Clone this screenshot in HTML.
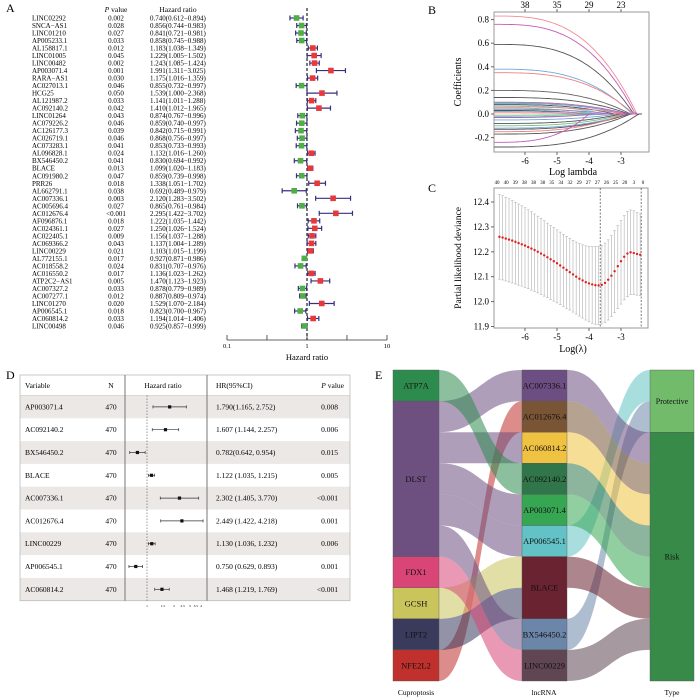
<!DOCTYPE html>
<html><head><meta charset="utf-8"><style>
html,body{margin:0;padding:0;background:#fff;}
svg{display:block;font-family:"Liberation Serif",serif;}
</style></head><body>
<svg id="fig" width="700" height="700" viewBox="0 0 700 700" xmlns="http://www.w3.org/2000/svg">
<g id="pa">
<text x="6" y="12" font-size="12">A</text>
<text x="116" y="12" font-size="7.5" text-anchor="middle"><tspan font-style="italic">P</tspan> value</text>
<text x="178" y="12" font-size="7.5" text-anchor="middle">Hazard ratio</text>
<text x="307" y="360" font-size="8.5" text-anchor="middle">Hazard ratio</text>
</g>
<g id="pb">
<text x="428" y="14" font-size="12">B</text>
<text x="573" y="175" font-size="10" text-anchor="middle">Log lambda</text>
<text transform="translate(461,82) rotate(-90)" font-size="10" text-anchor="middle">Coefficients</text>
</g>
<g id="pc">
<text x="428" y="192" font-size="12">C</text>
<text x="573" y="352" font-size="10" text-anchor="middle">Log(λ)</text>
<text transform="translate(461,258) rotate(-90)" font-size="9.5" text-anchor="middle">Partial likelihood deviance</text>
</g>
<g id="pd">
<text x="6" y="379" font-size="12">D</text>
</g>
<g id="pe">
<text x="375" y="379" font-size="12">E</text>
</g>
</svg>
<script>
// ---------- Panel A data ----------
const aNames=["LINC02292","SNCA−AS1","LINC01210","AP005233.1","AL158817.1","LINC01005","LINC00482","AP003071.4","RARA−AS1","AC027013.1","HCG25","AL121987.2","AC092140.2","LINC01264","AC079226.2","AC126177.3","AC026719.1","AC073283.1","AL096828.1","BX546450.2","BLACE","AC091980.2","PRR26","AL662791.1","AC007336.1","AC005696.4","AC012676.4","AF096876.1","AC024361.1","AC022405.1","AC069366.2","LINC00229","AL772155.1","AC018558.2","AC016550.2","ATP2C2−AS1","AC007327.2","AC007277.1","LINC01270","AP006545.1","AC060814.2","LINC00498"];
const aP=["0.002","0.028","0.027","0.033","0.012","0.045","0.002","0.001","0.030","0.046","0.050","0.033","0.042","0.043","0.046","0.039","0.046","0.041","0.024","0.041","0.013","0.047","0.018","0.038","0.003","0.027","<0.001","0.018","0.027","0.009","0.043","0.021","0.017","0.024","0.017","0.005","0.033","0.012","0.020","0.018","0.033","0.046"];
const aHR=[0.740,0.856,0.841,0.858,1.183,1.229,1.243,1.991,1.175,0.855,1.539,1.141,1.410,0.874,0.859,0.842,0.868,0.853,1.132,0.830,1.099,0.859,1.338,0.692,2.120,0.865,2.295,1.222,1.250,1.156,1.137,1.103,0.927,0.831,1.136,1.470,0.878,0.887,1.529,0.823,1.194,0.925];
const aLo=[0.612,0.744,0.721,0.745,1.038,1.005,1.085,1.311,1.016,0.732,1.000,1.011,1.012,0.767,0.740,0.715,0.756,0.733,1.016,0.694,1.020,0.739,1.051,0.489,1.283,0.761,1.422,1.035,1.026,1.037,1.004,1.015,0.871,0.707,1.023,1.123,0.779,0.809,1.070,0.700,1.014,0.857];
const aHi=[0.894,0.983,0.981,0.988,1.349,1.502,1.424,3.025,1.359,0.997,2.368,1.288,1.965,0.996,0.997,0.991,0.997,0.993,1.260,0.992,1.183,0.998,1.702,0.979,3.502,0.984,3.702,1.442,1.524,1.288,1.289,1.199,0.986,0.976,1.262,1.923,0.989,0.974,2.184,0.967,1.406,0.999];
const aTicks=[0.1,1,10];

// ---------- Panel B data ----------
const bStart=[0.83,0.76,0.59,0.38,0.35,0.20,0.14,0.10,0.095,0.09,0.08,0.07,0.06,0.05,0.04,0.03,0.02,0.01,-0.01,-0.02,-0.03,-0.05,-0.08,-0.10,-0.12,-0.13,-0.15,-0.17,-0.24,-0.28];
const bZero=[-2.5,-2.55,-2.6,-2.65,-2.6,-2.7,-2.75,-2.8,-3.0,-2.9,-3.2,-3.5,-2.85,-3.8,-3.3,-4.0,-3.6,-4.2,-4.0,-3.4,-3.9,-3.1,-3.0,-2.9,-2.8,-2.75,-2.9,-2.7,-4.0,-2.45];
const bTop=["38","35","29","23"];
const bTopAt=[-6,-5,-4,-3];
const bXTicks=[-6,-5,-4,-3];
const bYTicks=[0.8,0.6,0.4,0.2,0.0,-0.2];

// ---------- Panel C data ----------
const cX=[-6.8,-6.7,-6.6,-6.5,-6.4,-6.3,-6.2,-6.1,-6.0,-5.9,-5.8,-5.7,-5.6,-5.5,-5.4,-5.3,-5.2,-5.1,-5.0,-4.9,-4.8,-4.7,-4.6,-4.5,-4.4,-4.3,-4.2,-4.1,-4.0,-3.9,-3.8,-3.7,-3.6,-3.5,-3.4,-3.3,-3.2,-3.1,-3.0,-2.9,-2.8,-2.7,-2.6,-2.5,-2.4];
const cMean=[12.260,12.257,12.253,12.249,12.245,12.240,12.235,12.230,12.225,12.219,12.213,12.207,12.200,12.193,12.186,12.178,12.170,12.162,12.154,12.145,12.136,12.127,12.118,12.109,12.100,12.092,12.085,12.078,12.073,12.069,12.066,12.065,12.067,12.075,12.088,12.104,12.122,12.142,12.162,12.180,12.193,12.198,12.195,12.191,12.188];
const cUp=[12.430,12.425,12.419,12.413,12.406,12.399,12.392,12.385,12.377,12.369,12.361,12.352,12.343,12.334,12.325,12.315,12.306,12.297,12.288,12.279,12.270,12.262,12.254,12.246,12.239,12.233,12.228,12.224,12.222,12.221,12.221,12.222,12.226,12.235,12.248,12.265,12.285,12.305,12.325,12.345,12.362,12.368,12.365,12.358,12.352];
const cLo=[12.090,12.087,12.083,12.079,12.075,12.071,12.066,12.062,12.057,12.052,12.046,12.041,12.035,12.029,12.022,12.016,12.009,12.002,11.995,11.988,11.981,11.973,11.966,11.958,11.950,11.942,11.934,11.926,11.919,11.913,11.909,11.908,11.910,11.916,11.926,11.940,11.956,11.972,11.990,12.007,12.020,12.028,12.028,12.026,12.024];
const cTop=["40","40","39","38","38","38","35","34","32","29","27","27","26","25","20","3","0"];
const cXTicks=[-6,-5,-4,-3];
const cYTicks=[12.4,12.3,12.2,12.1,12.0,11.9];
const cVLines=[-3.65,-2.37];

// ---------- Panel D data ----------
const dNames=["AP003071.4","AC092140.2","BX546450.2","BLACE","AC007336.1","AC012676.4","LINC00229","AP006545.1","AC060814.2"];
const dHR=[1.790,1.607,0.782,1.122,2.302,2.449,1.130,0.750,1.468];
const dLo=[1.165,1.144,0.642,1.035,1.405,1.422,1.036,0.629,1.219];
const dHi=[2.752,2.257,0.954,1.215,3.770,4.218,1.232,0.893,1.769];
const dCI=["1.790(1.165, 2.752)","1.607 (1.144, 2.257)","0.782(0.642, 0.954)","1.122 (1.035, 1.215)","2.302 (1.405, 3.770)","2.449 (1.422, 4.218)","1.130 (1.036, 1.232)","0.750 (0.629, 0.893)","1.468 (1.219, 1.769)"];
const dP=["0.008","0.006","0.015","0.005","<0.001","0.001","0.006","0.001","<0.001"];
const dTicks=[1,1.5,2,2.5,3,3.5,4];

// ---------- Panel E data ----------
const eCup=["ATP7A","DLST","FDX1","GCSH","LIPT2","NFE2L2"];
const eCupN=[1,5,1,1,1,1];
const eLnc=["AC007336.1","AC012676.4","AC060814.2","AC092140.2","AP003071.4","AP006545.1","BLACE","BX546450.2","LINC00229"];
const eLncN=[1,1,1,1,1,1,2,1,1];
const eType=["Protective","Risk"];
const eTypeN=[2,8];
const eLink1Src=["DLST","NFE2L2","DLST","ATP7A","DLST","DLST","GCSH","LIPT2","DLST","FDX1"];
const eLink1Dst=["AC007336.1","AC012676.4","AC060814.2","AC092140.2","AP003071.4","AP006545.1","BLACE","BLACE","BX546450.2","LINC00229"];
const eLink2Src=["AP006545.1","BX546450.2","AC007336.1","AC012676.4","AC060814.2","AC092140.2","AP003071.4","BLACE","LINC00229"];
const eLink2Dst=["Protective","Protective","Risk","Risk","Risk","Risk","Risk","Risk","Risk"];

const NS="http://www.w3.org/2000/svg";
function mk(parent,tag,attrs,txt){const e=document.createElementNS(NS,tag);for(const k in attrs)e.setAttribute(k,attrs[k]);if(txt!==undefined)e.textContent=txt;parent.appendChild(e);return e;}
const pa=document.getElementById('pa'),pb=document.getElementById('pb'),pc=document.getElementById('pc'),pd=document.getElementById('pd'),pe=document.getElementById('pe');

// ===== Panel A =====
const aY=i=>18+i*(308/(aNames.length-1));
const aXs=v=>227+(Math.log10(v)+1)*80;
let el;
el=mk(pa,'line',{x1:aXs(1),x2:aXs(1),y1:8,y2:340,stroke:'#333','stroke-width':1.3,'stroke-dasharray':'3,2'});


el=mk(pa,'line',{x1:aXs(0.1),x2:aXs(10),y1:340,y2:340,stroke:'#333','stroke-width':0.8});


[0.1,0.316,1,3.16,10].forEach(v=>{el=mk(pa,'line',{x1:aXs(v),x2:aXs(v),y1:335,y2:340,stroke:'#333','stroke-width':0.8});

});
aTicks.forEach(v=>{el=mk(pa,'text',{x:aXs(v),y:348,'font-size':6.5,'text-anchor':'middle'},String(v));

});
aNames.forEach((n,i)=>{
 const y=aY(i);
 el=mk(pa,'text',{x:32,y:y+2.5,'font-size':7},n);
 
 
 el=mk(pa,'text',{x:116,y:y+2.5,'font-size':7,'text-anchor':'middle'},aP[i]);
 
 
 el=mk(pa,'text',{x:150,y:y+2.5,'font-size':7},aHR[i].toFixed(3)+'('+aLo[i].toFixed(3)+'−'+aHi[i].toFixed(3)+')');
 
 
 const g=mk(pa,'g',{});
 
 
 const x1=aXs(aLo[i]),x2=aXs(aHi[i]),xm=aXs(aHR[i]);
 mk(g,'line',{x1:x1,x2:x2,y1:y,y2:y,stroke:'#3b2e7e','stroke-width':1.2});
 mk(g,'line',{x1:x1,x2:x1,y1:y-2.5,y2:y+2.5,stroke:'#3b2e7e','stroke-width':1.2});
 mk(g,'line',{x1:x2,x2:x2,y1:y-2.5,y2:y+2.5,stroke:'#3b2e7e','stroke-width':1.2});
 mk(g,'rect',{x:xm-2.8,y:y-2.8,width:5.6,height:5.6,fill:aHR[i]<1?'#4fae45':'#e8393a'});
});

// ===== Panel B =====
const bL=494,bR=649,bT=12,bB=152;
const bXs=v=>525+(v+6)*32;
const bYs=v=>114-v*118;
el=mk(pb,'rect',{x:bL,y:bT,width:bR-bL,height:bB-bT,fill:'none',stroke:'#999','stroke-width':1});


bXTicks.forEach(v=>{mk(pb,'line',{x1:bXs(v),x2:bXs(v),y1:bB,y2:bB+3,stroke:'#666'});
el=mk(pb,'text',{x:bXs(v),y:bB+12,'font-size':9,'text-anchor':'middle'},String(v));

});
bYTicks.forEach(v=>{mk(pb,'line',{x1:bL-3,x2:bL,y1:bYs(v),y2:bYs(v),stroke:'#666'});
el=mk(pb,'text',{x:bL-5,y:bYs(v)+3,'font-size':9,'text-anchor':'end'},v.toFixed(1));

});
bTop.forEach((t,i)=>{mk(pb,'line',{x1:bXs(bTopAt[i]),x2:bXs(bTopAt[i]),y1:bT-3,y2:bT,stroke:'#666'});
el=mk(pb,'text',{x:bXs(bTopAt[i]),y:8,'font-size':9,'text-anchor':'middle'},t);

});
const bCols=['#f08c9a','#c45ab8','#555','#6fa8dc','#f08080','#666','#555','#c45ab8','#7fbf7f','#6fa8dc','#555','#66cccc','#f08080','#7fbf7f','#9c7fd0','#555','#6fa8dc','#f08080','#7fbf7f','#66cccc','#c45ab8','#6fa8dc','#555','#7fbf7f','#6fa8dc','#555','#f08080','#555','#c45ab8','#555'];
const bXmin=-6.97,bXend=-2.35;
bStart.forEach((c,i)=>{
 let d='';
 for(let k=0;k<=60;k++){const x=bXmin+(bXend-bXmin)*k/60;let t=(x-bXmin)/(bZero[i]-bXmin);let v=t>=1?0:c*(1-Math.pow(t,3));d+=(k?'L':'M')+bXs(x).toFixed(1)+','+bYs(v).toFixed(1);}
 el=mk(pb,'path',{d:d,fill:'none',stroke:bCols[i%bCols.length],'stroke-width':0.9});
 
 
});

// ===== Panel C =====
const cL=494,cR=648,cT=188,cB=328;
const cXs=v=>525+(v+6)*32;
const cYs=v=>202+(12.4-v)*249;
el=mk(pc,'rect',{x:cL,y:cT,width:cR-cL,height:cB-cT,fill:'none',stroke:'#999','stroke-width':1});


cXTicks.forEach(v=>{mk(pc,'line',{x1:cXs(v),x2:cXs(v),y1:cB,y2:cB+3,stroke:'#666'});
el=mk(pc,'text',{x:cXs(v),y:cB+12,'font-size':9,'text-anchor':'middle'},String(v));

});
cYTicks.forEach(v=>{mk(pc,'line',{x1:cL-3,x2:cL,y1:cYs(v),y2:cYs(v),stroke:'#666'});
el=mk(pc,'text',{x:cL-5,y:cYs(v)+3,'font-size':9,'text-anchor':'end'},v.toFixed(1));

});
cTop.forEach((t,i)=>{el=mk(pc,'text',{x:497+i*(146/(cTop.length-1)),y:184,'font-size':5,'text-anchor':'middle'},t);

});
cVLines.forEach(v=>{el=mk(pc,'line',{x1:cXs(v),x2:cXs(v),y1:cT,y2:cB,stroke:'#444','stroke-width':0.7,'stroke-dasharray':'2,1.5'});

});
cX.forEach((x,i)=>{
 const g=mk(pc,'g',{});
 
 
 const px=cXs(x);
 mk(g,'line',{x1:px,x2:px,y1:cYs(cUp[i]),y2:cYs(cLo[i]),stroke:'#bbb','stroke-width':0.7});
 mk(g,'line',{x1:px-1.3,x2:px+1.3,y1:cYs(cUp[i]),y2:cYs(cUp[i]),stroke:'#bbb','stroke-width':0.7});
 mk(g,'line',{x1:px-1.3,x2:px+1.3,y1:cYs(cLo[i]),y2:cYs(cLo[i]),stroke:'#bbb','stroke-width':0.7});
 mk(g,'circle',{cx:px,cy:cYs(cMean[i]),r:1.2,fill:'#e02020'});
});

// ===== Panel D =====
const dL=20,dR=350,dT=375,dHead=20.5,dRow=22.8;
const dXs=v=>147+Math.log2(v)*27;
for(let i=0;i<dNames.length;i++){ if(i%2===0){el=mk(pd,'rect',{x:dL,y:dT+dHead+i*dRow,width:dR-dL,height:dRow,fill:'#ebe8e5'});

}}
el=mk(pd,'rect',{x:dL,y:dT,width:dR-dL,height:dHead+dNames.length*dRow,fill:'none',stroke:'#bbb','stroke-width':0.8});


mk(pd,'line',{x1:dL,x2:dR,y1:dT+dHead,y2:dT+dHead,stroke:'#bbb','stroke-width':0.6});
[125,207].forEach(x=>{el=mk(pd,'line',{x1:x,x2:x,y1:dT,y2:dT+dHead+dNames.length*dRow,stroke:'#777','stroke-width':1});

});
[['Variable',25,'start'],['N',111,'middle'],['Hazard ratio',163,'middle'],['HR(95%CI)',216,'start']].forEach(h=>{el=mk(pd,'text',{x:h[1],y:dT+13,'font-size':7.5,'text-anchor':h[2]},h[0]);

});
el=mk(pd,'text',{x:344,y:dT+13,'font-size':7.5,'text-anchor':'end'});
el.innerHTML='<tspan font-style="italic">P</tspan> value';


el=mk(pd,'line',{x1:dXs(1),x2:dXs(1),y1:dT+dHead,y2:dT+dHead+dNames.length*dRow,stroke:'#555','stroke-width':0.6,'stroke-dasharray':'1.5,1.5'});


dNames.forEach((n,i)=>{
 const y=dT+dHead+i*dRow+dRow/2;
 el=mk(pd,'text',{x:25,y:y+2.5,'font-size':7.5},n);
 
 
 el=mk(pd,'text',{x:111,y:y+2.5,'font-size':7.5,'text-anchor':'middle'},'470');
 
 
 el=mk(pd,'text',{x:216,y:y+2.5,'font-size':7.5},dCI[i]);
 
 
 el=mk(pd,'text',{x:338,y:y+2.5,'font-size':7.5,'text-anchor':'end'},dP[i]);
 
 
 const g=mk(pd,'g',{});
 
 
 const x1=dXs(dLo[i]),x2=dXs(dHi[i]);
 mk(g,'line',{x1:x1,x2:x2,y1:y,y2:y,stroke:'#333','stroke-width':0.7});
 mk(g,'line',{x1:x1,x2:x1,y1:y-1.5,y2:y+1.5,stroke:'#333','stroke-width':0.7});
 mk(g,'line',{x1:x2,x2:x2,y1:y-1.5,y2:y+1.5,stroke:'#333','stroke-width':0.7});
 mk(g,'rect',{x:dXs(dHR[i])-1.6,y:y-1.6,width:3.2,height:3.2,fill:'#111'});
});
dTicks.forEach(v=>{el=mk(pd,'text',{x:dXs(v),y:607,'font-size':3.5,'text-anchor':'middle'},String(v));

});

// ===== Panel E =====
const eT=370,eB=681,eU=(eB-eT)/10;
const eC1=[393,439],eC2=[522,567],eC3=[650,694];
const eColors={"ATP7A":"#2e8b4e","DLST":"#6d4f80","FDX1":"#d94577","GCSH":"#c9c45c","LIPT2":"#393a5c","NFE2L2":"#c0302c","AC007336.1":"#6c4e82","AC012676.4":"#7a5535","AC060814.2":"#f0c242","AC092140.2":"#30764a","AP003071.4":"#37a652","AP006545.1":"#63c2c5","BLACE":"#6a2330","BX546450.2":"#6b86a9","LINC00229":"#5f4652","Protective":"#72bb6b","Risk":"#378a48"};
const ePos={};
function layout(names,counts,col){let y=eT;names.forEach((n,i)=>{ePos[n]={x:col,y0:y,y1:y+counts[i]*eU,outCur:y,inCur:y};y+=counts[i]*eU;});}
layout(eCup,eCupN,eC1);layout(eLnc,eLncN,eC2);layout(eType,eTypeN,eC3);
function ribbon(src,dst,color,name){
 const s=ePos[src],t=ePos[dst];
 const sy0=s.outCur,sy1=sy0+eU;s.outCur=sy1;
 const ty0=t.inCur,ty1=ty0+eU;t.inCur=ty1;
 const x0=s.x[1],x1=t.x[0],xm=(x0+x1)/2;
 const d=`M${x0},${sy0}C${xm},${sy0} ${xm},${ty0} ${x1},${ty0}L${x1},${ty1}C${xm},${ty1} ${xm},${sy1} ${x0},${sy1}Z`;
 el=mk(pe,'path',{d:d,fill:color,'fill-opacity':0.55});
 
 
}
eLink1Src.forEach((s,i)=>ribbon(s,eLink1Dst[i],eColors[s],'e-cuproptosis-link'));
eLink2Src.forEach((s,i)=>ribbon(s,eLink2Dst[i],eColors[s],'e-type-link'));
[[eCup,'e-cuproptosis-node',8.5],[eLnc,'e-lncrna-node',8.5],[eType,'e-type-node',8]].forEach(grp=>{
 grp[0].forEach(n=>{const p=ePos[n];
  el=mk(pe,'rect',{x:p.x[0],y:p.y0,width:p.x[1]-p.x[0],height:p.y1-p.y0,fill:eColors[n],stroke:'#555','stroke-width':0.4});
  
  
  el=mk(pe,'text',{x:(p.x[0]+p.x[1])/2,y:(p.y0+p.y1)/2+3,'font-size':grp[2],'text-anchor':'middle',fill:'#111'},n);
  
  
 });
});
[['Cuproptosis',416],['lncRNA',544],['Type',672]].forEach(h=>{el=mk(pe,'text',{x:h[1],y:695,'font-size':7.5,'text-anchor':'middle'},h[0]);

});
</script>
</body></html>
